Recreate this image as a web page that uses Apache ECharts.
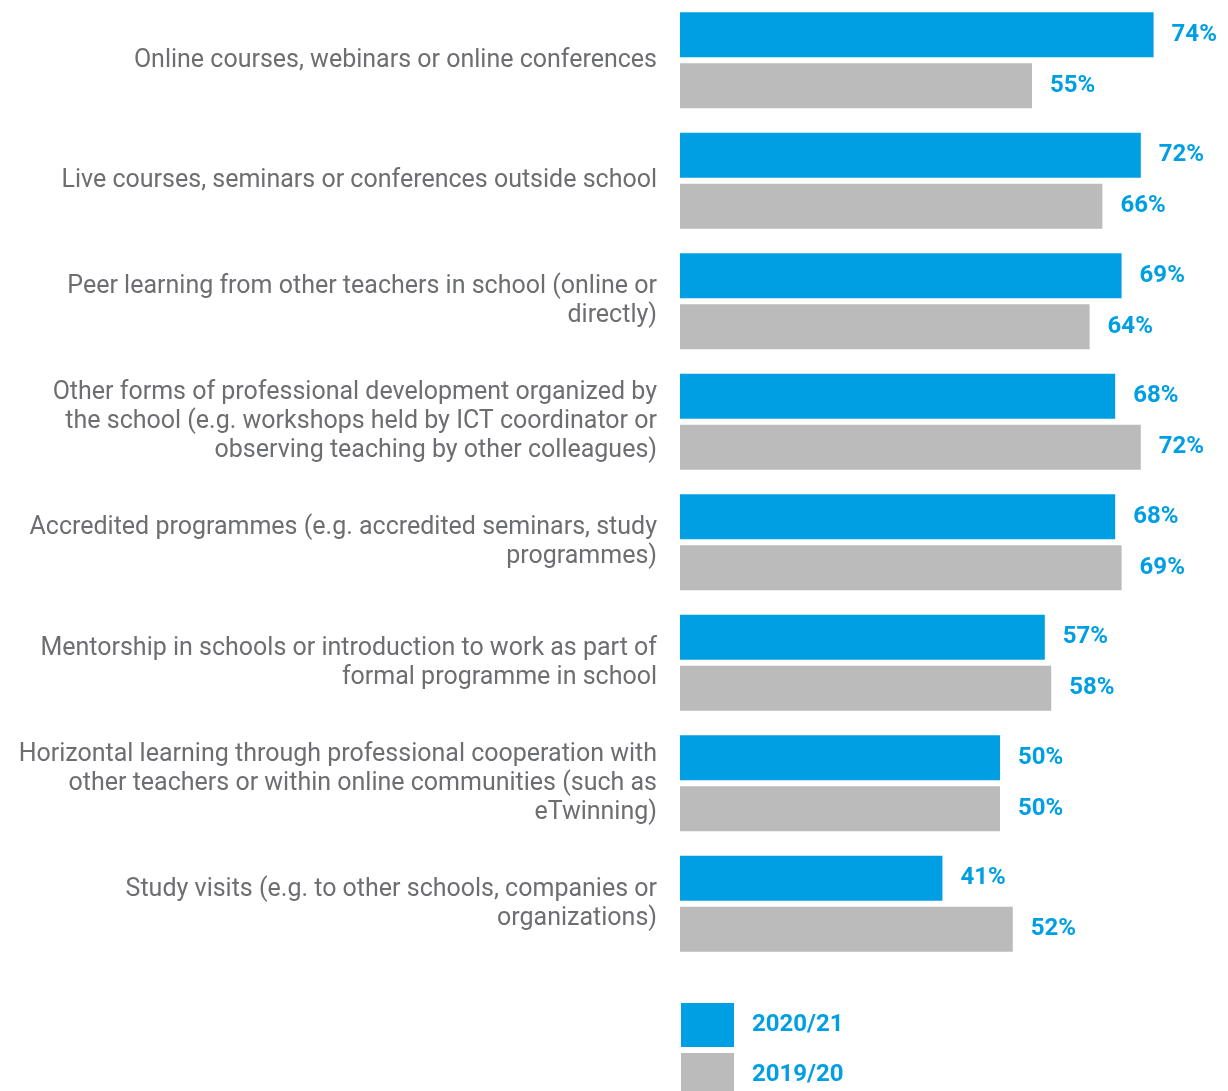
<!DOCTYPE html>
<html>
<head>
<meta charset="utf-8">
<script src="https://cdn.jsdelivr.net/npm/echarts@6/dist/echarts.min.js"></script>
<style>
  html, body { margin: 0; padding: 0; background: #fff; }
  #chart { width: 1228px; height: 1091px; }
</style>
</head>
<body>
<div id="chart"></div>
<script>
// Forms of professional development, share of teachers (%)
const categories = [
  'Online courses, webinars or online conferences',
  'Live courses, seminars or conferences outside school',
  'Peer learning from other teachers in school (online or\ndirectly)',
  'Other forms of professional development organized by\nthe school (e.g. workshops held by ICT coordinator or\nobserving teaching by other colleagues)',
  'Accredited programmes (e.g. accredited seminars, study\nprogrammes)',
  'Mentorship in schools or introduction to work as part of\nformal programme in school',
  'Horizontal learning through professional cooperation with\nother teachers or within online communities (such as\neTwinning)',
  'Study visits (e.g. to other schools, companies or\norganizations)'
];
const seriesNames = ['2020/21', '2019/20'];
const values2021 = [74, 72, 69, 68, 68, 57, 50, 41];
const values2020 = [55, 66, 64, 72, 69, 58, 50, 52];

const BLUE = '#009FE3';
const GREY = '#BBBBBB';
const FONT = 'Roboto';

const chart = echarts.init(document.getElementById('chart'));

const valueLabel = {
  show: true,
  position: 'right',
  distance: 18,
  formatter: '{c}%',
  color: BLUE,
  fontFamily: FONT,
  fontWeight: 'bold',
  fontSize: 24
};

chart.setOption({
  animation: false,
  // value axis runs to the right edge of the canvas (548px = 85.625%)
  grid: { left: 680, top: 0, right: 0, height: 964, containLabel: false },
  xAxis: {
    type: 'value',
    min: 0,
    max: 85.625,
    show: false
  },
  yAxis: {
    type: 'category',
    inverse: true,
    data: categories,
    axisLine: { show: false },
    axisTick: { show: false },
    splitLine: { show: false },
    axisLabel: {
      margin: 23,
      color: '#6d6e71',
      fontFamily: FONT,
      fontSize: 25,
      lineHeight: 29,
      align: 'right'
    }
  },
  legend: {
    orient: 'vertical',
    left: 681,
    top: 1003,
    height: 120,
    padding: 0,
    itemWidth: 53,
    itemHeight: 44,
    itemGap: 6,
    icon: 'rect',
    data: seriesNames,
    textStyle: {
      color: BLUE,
      fontFamily: FONT,
      fontWeight: 'bold',
      fontSize: 24,
      padding: [0, 0, 0, 13]
    }
  },
  series: [
    {
      name: seriesNames[0],
      type: 'bar',
      data: values2021,
      barWidth: 45,
      barGap: '13%',
      itemStyle: { color: BLUE },
      label: valueLabel
    },
    {
      name: seriesNames[1],
      type: 'bar',
      data: values2020,
      barWidth: 45,
      barGap: '13%',
      itemStyle: { color: GREY },
      label: valueLabel
    }
  ]
});
</script>
</body>
</html>
